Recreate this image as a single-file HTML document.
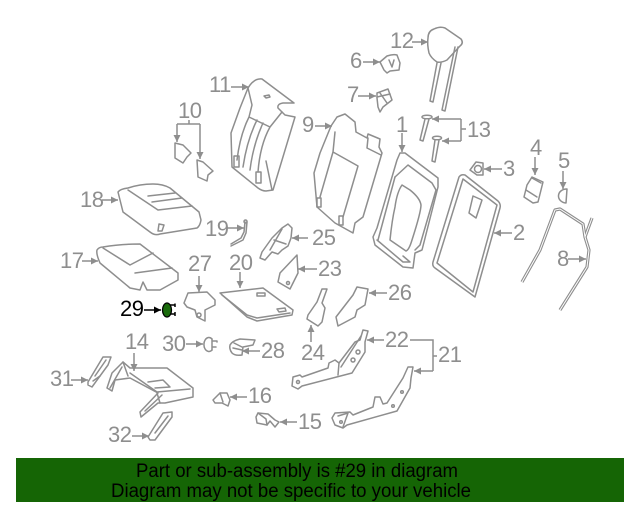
<!DOCTYPE html>
<html>
<head>
<meta charset="utf-8">
<style>
html,body{margin:0;padding:0;background:#fff;width:640px;height:512px;overflow:hidden}
svg{display:block;filter:blur(.35px)}
text{font-family:"Liberation Sans",sans-serif}
.l{font-size:22px;fill:#8e8e8e;letter-spacing:-.5px}
.p path,.p polygon,.p polyline,.p line,.p circle,.p ellipse,.p rect{fill:none;stroke:#8e8e8e;stroke-width:1.5;stroke-linejoin:round;stroke-linecap:round}
.t line,.t polyline{fill:none;stroke:#8e8e8e;stroke-width:1.5}
.a{marker-end:url(#a)}
</style>
</head>
<body>
<svg width="640" height="512" viewBox="0 0 640 512" xmlns="http://www.w3.org/2000/svg">
<defs>
<marker id="a" markerUnits="userSpaceOnUse" markerWidth="8" markerHeight="8" refX="7" refY="4" orient="auto"><path d="M0 .5L7 4L0 7.500z" fill="#8e8e8e"/></marker>
<marker id="b" markerUnits="userSpaceOnUse" markerWidth="8" markerHeight="8" refX="7" refY="4" orient="auto"><path d="M0 .5L7 4L0 7.500z" fill="#000"/></marker>
</defs>
<rect width="640" height="512" fill="#fff"/>

<g class="p">
<!-- 11 -->
<path d="M248 88Q254 78 262 79L294 103L283 103Q277 104 278 108L285 115L295 117L273 190L266 191Q262 191 258 188L232 167L231 133L240 108Z"/>
<path d="M249 117Q240 135 237 160M257 120Q247 140 243 167M263 123Q253 145 250 170M270 127Q260 145 258 172M249 117L270 127M248 88L252 105L249 117M270 127L282 112M266 161L272 190"/>
<rect x="234" y="156" width="5" height="11"/><rect x="256" y="172" width="5" height="11"/>
<path d="M264 96L269 95L270 97L266 98Z"/>
<!-- 10 -->
<polygon points="175,143 183,145 191,153 187,157 183,163 175,158"/>
<polygon points="197,160 203,162 213,171 208,175 207,181 198,177"/>
<!-- 18 -->
<path d="M118 192Q120 189 128 188Q140 184 153 184Q163 184 170 188L199 212L201 220Q200 226 197 228L160 234Q155 236 150 232L123 212Z"/>
<path d="M128 190L158 210L192 206M148 196L175 193M152 202L182 198"/>
<polygon points="159,224 164,225 162,231 158,231"/>
<!-- 19 -->
<path d="M245 222L244 232L241 238L231 244"/><path d="M247 222L246 233L243 240L231 246"/><circle cx="245.500" cy="221.500" r="1.500"/>
<!-- 17 -->
<path d="M97 250Q99 247 103 247Q120 244 140 244L178 273L178 280L160 290L147 290L143 282L140 290L130 288L100 263Q96 254 97 250Z"/>
<path d="M103 248L130 265L153 253M135 273L172 268"/>
<!-- 27 -->
<polygon points="184,303 188,293 207,292 215,300 215,305 205,310 205,321 197,317 195,310 187,307"/>
<circle cx="199" cy="315" r="2"/>
<!-- 20 -->
<polygon points="220,293 263,288 293,310 292,315 257,321 247,317"/>
<path d="M222 295L247 315L257 318L290 313"/>
<rect x="257" y="293" width="8" height="3"/><polygon points="277,309 285,308 286,311 279,312"/>
<!-- 23 -->
<polygon points="297,255 298,273 290,289 278,282 280,273"/>
<circle cx="288" cy="283" r="1.500"/>
<!-- 25 -->
<polygon points="288,224 292,228 291,238 288,246 282,250 278,254 272,252 265,260 260,258 262,252 272,238 282,228"/>
<path d="M274 240L286 244M282 229L270 250"/>
<!-- 24 -->
<polygon points="322,289 327,289 322,303 325,308 322,322 318,326 307,319 308,315 317,302"/>
<!-- 26 -->
<polygon points="357,287 368,289 365,305 357,310 355,317 338,326 336,317 353,295"/>
<!-- 22 -->
<polygon points="363,330 368,331 365,342 365,352 352,373 302,386 298,389 292,386 293,377 300,375 302,377 328,368 329,363 335,360 339,363 355,342 360,340"/>
<path d="M339 363L338 375M341 367L361 336"/>
<circle cx="358" cy="352" r="2"/><circle cx="353" cy="360" r="2"/><circle cx="298" cy="382" r="1.500"/>
<!-- 21 -->
<polygon points="408,367 413,367 411,378 410,388 397,411 347,425 343,428 335,425 332,418 335,413 350,412 353,415 373,407 375,397 380,397 383,404 387,403 403,378"/>
<path d="M338 416L348 413L343 427"/>
<circle cx="402" cy="392" r="1.300"/><circle cx="393" cy="406" r="1.300"/><circle cx="341" cy="422" r="1.300"/>
<!-- 15 -->
<polygon points="256,417 258,413 268,414 275,420 279,422 275,427 270,421 267,425 257,423"/>
<path d="M258 413L266 419L267 425"/>
<!-- 16 -->
<polygon points="213,400 220,393 227,393 230,400 228,406 222,403 215,403"/>
<path d="M220 393L223 402"/>
<!-- 28 -->
<path d="M230 345Q232 341 240 339L255 340L253 345L243 347L242 355Q235 356 232 353Q229 349 230 345Z"/>
<path d="M234 343L242 347M233 348L242 350"/>
<!-- 30 -->
<path d="M212 339A5 7 0 1 0 212 350"/><path d="M212 339L212 350M212 341L217 341L217 342M212 347L216 347"/>
<!-- 14 -->
<polygon points="107,388 112,373 123,362 130,368 167,368 193,388 193,397 165,403 158,403 141,417 140,412 158,393 130,378 115,380 112,391"/>
<path d="M130 373L157 392L190 389M123 362L128 376M110 388L122 367M148 382L163 380L170 387L155 388M160 403L157 393M145 411L162 395"/>
<!-- 31 -->
<polygon points="88,382 103,357 111,357 108,365 92,387 88,385"/>
<path d="M95 376L106 360M93 381L100 376"/>
<!-- 32 -->
<polygon points="148,437 163,413 172,412 172,417 155,440 150,440"/>
<path d="M155 433L168 416"/>
<!-- 12 -->
<path d="M428 38Q428 31 434 29Q440 26 445 28L461 39Q464 43 460 46L447 60Q441 63 437 62Q431 58 429 53Q427 44 428 38Z"/>
<path d="M437 63L430 101L433 102L441 63M455 47L442 110L445 111L458 47"/>
<!-- 6 -->
<path d="M380 62L387 56Q393 54 397 55L400 63L399 70L390 71L387 73L384 70Z"/>
<path d="M389 60L392 67L394 60"/>
<!-- 7 -->
<polygon points="377,93 388,89 392,100 383,107 380,112 378,107 377,98"/>
<path d="M377 97L390 94M380 93L387 103"/>
<!-- 9 -->
<polygon points="331,126 337,117 345,114 355,122 356,132 367,138 368,134 380,139 379,147 382,153 363,217 355,223 353,233 335,223 317,207 314,173 320,153"/>
<path d="M335 132L333 152L358 166L343 217M333 152L320 197M368 138L367 148L381 155"/>
<rect x="317" y="198" width="4" height="9"/><rect x="339" y="216" width="4" height="9"/>
<!-- 1 -->
<polygon points="400,153 405,153 438,178 438,187 422,250 415,253 413,268 403,267 375,245 373,237 377,228 397,160"/>
<path d="M395 177L408 165L432 183L436 190L420 245L415 250"/>
<path d="M402 185L410 190Q420 198 421 205Q421 212 412 240Q409 250 406 251L390 240Q392 220 395 207Q397 192 402 185Z"/>
<path d="M377 240L403 262L410 262L403 256M395 177L378 240"/>
<!-- 2 -->
<path d="M433 262L459 177Q461 174 465 175L498 201Q501 204 500 208L475 297L435 268Q432 266 433 262Z"/>
<polygon points="463,179 497,205 473,292 437,263"/>
<polygon points="473,196 482,200 476,218 469,213"/>
<!-- 3 -->
<path d="M470 170L476 162L483 163L483 175L477 175Z"/><circle cx="478" cy="169" r="3.500"/>
<!-- 4 -->
<polygon points="532,177 543,182 538,202 533,203 524,197 527,185"/>
<path d="M526 190L537 197M532 178L541 183"/>
<!-- 5 -->
<path d="M567 189L566 203A8 7 0 0 1 567 189Z"/>
<!-- 13 pins -->
<ellipse cx="427" cy="117" rx="5" ry="1.800"/>
<path d="M425 119L420 140L423 141L429 119"/>
<ellipse cx="437" cy="138" rx="4.500" ry="1.800"/>
<path d="M435 140L432 161L435 162L439 140"/>
</g>
<!-- 8 -->
<path d="M522 282L540 250L555 210L560 209L583 224L585 237L589 250L587 267L560 310" fill="none" stroke="#8e8e8e" stroke-width="3.200" stroke-linejoin="round"/>
<path d="M592 218L585 237" fill="none" stroke="#8e8e8e" stroke-width="3.200"/>
<path d="M522 282L540 250L555 210L560 209L583 224L585 237L589 250L587 267L560 310" fill="none" stroke="#fff" stroke-width="1"/>
<path d="M592 218L585 237" fill="none" stroke="#fff" stroke-width="1"/>

<!-- 29 part -->
<path d="M169 305L175 305M170 314L175 314M175 303.500L175 307M175 312L175 316" stroke="#000" stroke-width="1.500" fill="none"/>
<ellipse cx="167" cy="310" rx="4.500" ry="7" fill="#1a6b0c" stroke="#000" stroke-width="1.300"/>

<g class="t">
<line class="a" x1="102" y1="200" x2="118" y2="200"/>
<line class="a" x1="82" y1="261" x2="98" y2="261"/>
<line class="a" x1="231" y1="87" x2="249" y2="87"/>
<line class="a" x1="227" y1="228" x2="244" y2="228"/>
<polyline points="189,120 189,124"/>
<polyline points="200,124 177,124"/>
<line class="a" x1="177" y1="124" x2="177" y2="142"/>
<line class="a" x1="200" y1="124" x2="200" y2="159"/>
<line class="a" x1="199" y1="276" x2="199" y2="292"/>
<line class="a" x1="240" y1="272" x2="240" y2="288"/>
<line class="a" x1="317" y1="269" x2="298" y2="269"/>
<line class="a" x1="308" y1="238" x2="292" y2="238"/>
<line class="a" x1="311" y1="342" x2="311" y2="325"/>
<line class="a" x1="387" y1="293" x2="369" y2="293"/>
<line class="a" x1="384" y1="340" x2="367" y2="340"/>
<polyline points="410,340 433,340 433,371"/>
<line x1="433" y1="356" x2="437" y2="356"/>
<line class="a" x1="433" y1="371" x2="414" y2="371"/>
<line class="a" x1="297" y1="422" x2="280" y2="422"/>
<line class="a" x1="247" y1="397" x2="230" y2="397"/>
<line class="a" x1="260" y1="351" x2="242" y2="351"/>
<line class="a" x1="186" y1="344" x2="203" y2="344"/>
<line class="a" x1="134" y1="353" x2="134" y2="371"/>
<line class="a" x1="71" y1="380" x2="88" y2="380"/>
<line class="a" x1="132" y1="436" x2="149" y2="436"/>
<line class="a" x1="412" y1="42" x2="428" y2="42"/>
<line class="a" x1="363" y1="62" x2="380" y2="62"/>
<line class="a" x1="358" y1="96" x2="376" y2="96"/>
<line class="a" x1="315" y1="126" x2="332" y2="126"/>
<line class="a" x1="402" y1="133" x2="402" y2="152"/>
<polyline points="461,119 461,141"/>
<line class="a" x1="461" y1="119" x2="432" y2="119"/>
<line class="a" x1="461" y1="141" x2="442" y2="141"/>
<line x1="461" y1="129" x2="466" y2="129"/>
<line class="a" x1="512" y1="233" x2="494" y2="233"/>
<line class="a" x1="502" y1="169" x2="484" y2="169"/>
<line class="a" x1="535" y1="157" x2="535" y2="175"/>
<line class="a" x1="563" y1="171" x2="563" y2="189"/>
<line class="a" x1="568" y1="259" x2="586" y2="259"/>
</g>
<line x1="144" y1="310" x2="161" y2="310" stroke="#000" stroke-width="1.500" marker-end="url(#b)"/>

<g class="l">
<text x="80" y="207">18</text>
<text x="60" y="268">17</text>
<text x="209" y="92">11</text>
<text x="178" y="118">10</text>
<text x="205" y="236">19</text>
<text x="188" y="271">27</text>
<text x="229" y="270">20</text>
<text x="312" y="245">25</text>
<text x="318" y="276">23</text>
<text x="301" y="360">24</text>
<text x="388" y="300">26</text>
<text x="385" y="347">22</text>
<text x="438" y="362">21</text>
<text x="298" y="429">15</text>
<text x="248" y="403">16</text>
<text x="261" y="358">28</text>
<text x="162" y="351">30</text>
<text x="125" y="349">14</text>
<text x="50" y="386">31</text>
<text x="108" y="442">32</text>
<text x="390" y="48">12</text>
<text x="350" y="68">6</text>
<text x="347" y="102">7</text>
<text x="302" y="132">9</text>
<text x="396" y="132">1</text>
<text x="467" y="137">13</text>
<text x="513" y="240">2</text>
<text x="503" y="176">3</text>
<text x="530" y="155">4</text>
<text x="558" y="168">5</text>
<text x="557" y="266">8</text>
</g>
<text x="120" y="316" font-size="22" letter-spacing="-.5" fill="#000">29</text>

<rect x="16" y="458" width="608" height="44" fill="#156505"/>
<text x="136" y="477" font-size="19" fill="#000" textLength="322" lengthAdjust="spacingAndGlyphs">Part or sub-assembly is #29 in diagram</text>
<text x="111" y="497" font-size="19" fill="#000" textLength="360" lengthAdjust="spacingAndGlyphs">Diagram may not be specific to your vehicle</text>
</svg>
</body>
</html>
